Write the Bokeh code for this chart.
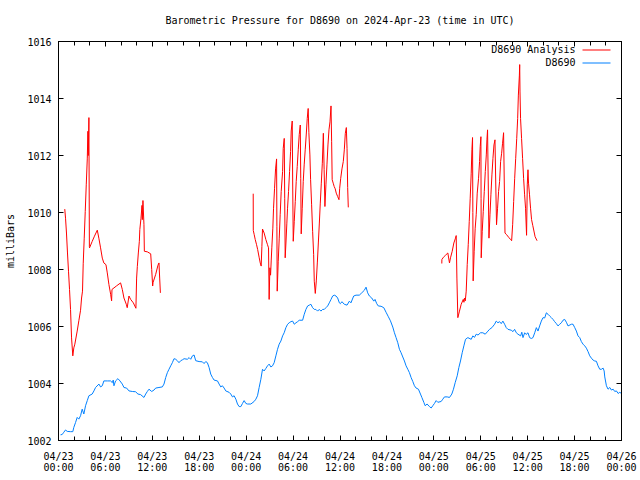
import math
from bokeh.plotting import figure
from bokeh.models import FixedTicker, LinearAxis, Range1d, Label, BoxAnnotation
from bokeh.embed import file_html
from bokeh.resources import INLINE

NaN = float("nan")

title_text = "Barometric Pressure for D8690 on 2024-Apr-23 (time in UTC)"
y_label = "milliBars"
series_names = ["D8690 Analysis", "D8690"]

# hours since 2024-04-23 00:00 UTC
tick_hours = [0, 6, 12, 18, 24, 30, 36, 42, 48, 54, 60, 66, 72]
tick_labels = ["04/23\n00:00", "04/23\n06:00", "04/23\n12:00", "04/23\n18:00",
               "04/24\n00:00", "04/24\n06:00", "04/24\n12:00", "04/24\n18:00",
               "04/25\n00:00", "04/25\n06:00", "04/25\n12:00", "04/25\n18:00",
               "04/26\n00:00"]
minor_hours = list(range(0, 73, 2))
y_ticks = [1002, 1004, 1006, 1008, 1010, 1012, 1014, 1016]

station_hours = [
    0.26, 0.47, 0.68, 0.90, 1.11, 1.54, 1.83, 1.96, 2.18, 2.39, 2.60, 2.82, 3.03, 3.24, 3.46, 3.68,
    3.89, 4.31, 4.53, 4.74, 5.17, 5.38, 5.60, 5.80, 6.24, 6.66, 6.88, 7.00, 7.09, 7.30, 7.60, 7.86,
    8.16, 8.37, 8.71, 9.01, 9.44, 9.86, 10.16, 10.50, 10.93, 11.15, 11.36, 11.57, 11.92, 12.21,
    12.43, 12.85, 13.28, 13.49, 13.71, 13.92, 14.13, 14.35, 14.56, 14.77, 14.99, 15.20, 15.41,
    15.63, 15.84, 16.06, 16.48, 16.70, 16.91, 17.13, 17.34, 17.55, 17.98, 18.40, 18.62, 18.83,
    19.04, 19.26, 19.47, 19.69, 19.90, 20.33, 20.54, 20.75, 20.96, 21.18, 21.39, 21.82, 22.03,
    22.25, 22.46, 22.68, 22.89, 23.10, 23.32, 23.53, 23.74, 23.96, 24.17, 24.60, 25.02, 25.24,
    25.45, 25.66, 25.88, 26.09, 26.30, 26.52, 26.73, 26.94, 27.16, 27.37, 27.58, 27.80, 28.01,
    28.22, 28.44, 28.66, 28.86, 29.08, 29.30, 29.50, 29.72, 29.94, 30.15, 30.37, 30.58, 30.79,
    31.22, 31.43, 31.64, 31.86, 32.07, 32.28, 32.50, 32.71, 32.92, 33.14, 33.35, 33.56, 33.78,
    33.99, 34.20, 34.42, 34.63, 34.85, 35.06, 35.27, 35.49, 35.70, 35.92, 36.04, 36.25, 36.55,
    36.90, 37.20, 37.40, 37.75, 38.05, 38.47, 38.78, 39.11, 39.33, 39.54, 39.76, 40.06, 40.32,
    40.48, 40.70, 40.90, 41.25, 41.60, 41.89, 42.19, 42.45, 42.75, 42.96, 43.17, 43.39, 43.60,
    43.81, 44.03, 44.24, 44.45, 44.67, 44.88, 45.09, 45.31, 45.52, 45.73, 46.03, 46.29, 46.47,
    46.72, 46.89, 47.14, 47.44, 47.66, 47.87, 48.08, 48.30, 48.51, 48.94, 49.15, 49.36, 49.71,
    50.00, 50.30, 50.51, 50.73, 50.99, 51.20, 51.41, 51.63, 51.84, 52.05, 52.35, 52.78, 52.99,
    53.20, 53.42, 53.65, 53.97, 54.27, 54.57, 54.83, 55.12, 55.43, 55.77, 55.98, 56.20, 56.40,
    56.62, 56.83, 57.05, 57.26, 57.48, 57.90, 58.12, 58.33, 58.55, 58.76, 59.10, 59.25, 59.40,
    59.62, 59.80, 60.04, 60.25, 60.47, 60.68, 60.90, 61.11, 61.32, 61.53, 61.75, 61.96, 62.18,
    62.39, 62.60, 62.81, 63.03, 63.24, 63.45, 63.67, 63.88, 64.10, 64.31, 64.52, 64.73, 64.95,
    65.16, 65.59, 65.80, 66.02, 66.23, 66.44, 66.66, 66.87, 67.08, 67.30, 67.51, 67.72, 67.94,
    68.15, 68.37, 68.58, 68.79, 69.00, 69.22, 69.43, 69.65, 69.78, 69.86, 70.07, 70.28, 70.50,
    70.71, 70.93, 71.14, 71.35, 71.57, 71.78, 72.00]
station_mb = [
    1002.20, 1002.21, 1002.29, 1002.37, 1002.32, 1002.31, 1002.31, 1002.46, 1002.63, 1002.81,
    1002.75, 1002.87, 1003.10, 1002.93, 1003.22, 1003.40, 1003.57, 1003.63, 1003.74, 1003.86,
    1003.98, 1003.88, 1003.92, 1004.09, 1004.09, 1004.09, 1004.03, 1004.12, 1003.92, 1004.09,
    1004.17, 1004.09, 1003.98, 1003.86, 1003.84, 1003.74, 1003.72, 1003.71, 1003.63, 1003.61,
    1003.51, 1003.63, 1003.72, 1003.80, 1003.72, 1003.77, 1003.84, 1003.86, 1003.88, 1003.98,
    1004.21, 1004.38, 1004.50, 1004.62, 1004.73, 1004.87, 1004.85, 1004.80, 1004.73, 1004.80,
    1004.83, 1004.87, 1004.85, 1004.91, 1004.85, 1004.97, 1005.00, 1004.80, 1004.77, 1004.76,
    1004.70, 1004.77, 1004.73, 1004.56, 1004.33, 1004.21, 1004.12, 1004.09, 1003.98, 1003.88,
    1003.92, 1003.84, 1003.74, 1003.69, 1003.63, 1003.53, 1003.57, 1003.45, 1003.28, 1003.19,
    1003.19, 1003.30, 1003.40, 1003.30, 1003.28, 1003.28, 1003.37, 1003.45, 1003.57, 1003.86,
    1004.15, 1004.50, 1004.44, 1004.53, 1004.62, 1004.68, 1004.58, 1004.62, 1004.73, 1004.97,
    1005.20, 1005.38, 1005.49, 1005.67, 1005.78, 1005.96, 1006.08, 1006.13, 1006.17, 1006.19,
    1006.08, 1006.13, 1006.17, 1006.22, 1006.22, 1006.43, 1006.60, 1006.72, 1006.75, 1006.78,
    1006.66, 1006.60, 1006.60, 1006.54, 1006.60, 1006.54, 1006.60, 1006.60, 1006.66, 1006.72,
    1006.83, 1006.95, 1007.07, 1007.10, 1007.07, 1007.00, 1006.83, 1006.80, 1006.87, 1006.78,
    1006.75, 1006.89, 1006.83, 1007.07, 1007.10, 1007.10, 1007.18, 1007.27, 1007.38, 1007.18,
    1007.07, 1007.00, 1006.89, 1006.95, 1006.80, 1006.72, 1006.71, 1006.66, 1006.50, 1006.34,
    1006.20, 1005.98, 1005.78, 1005.61, 1005.43, 1005.20, 1005.08, 1004.93, 1004.79, 1004.62,
    1004.50, 1004.38, 1004.21, 1004.07, 1003.92, 1003.84, 1003.80, 1003.63, 1003.51, 1003.34,
    1003.22, 1003.28, 1003.19, 1003.14, 1003.22, 1003.30, 1003.40, 1003.34, 1003.37, 1003.45,
    1003.53, 1003.53, 1003.51, 1003.63, 1003.80, 1004.03, 1004.27, 1004.56, 1004.79, 1005.08,
    1005.32, 1005.55, 1005.61, 1005.55, 1005.67, 1005.62, 1005.73, 1005.70, 1005.78, 1005.78,
    1005.73, 1005.81, 1005.90, 1005.96, 1006.08, 1006.19, 1006.13, 1006.17, 1006.10, 1006.19,
    1006.08, 1005.96, 1005.90, 1005.87, 1005.82, 1005.90, 1005.78, 1005.73, 1005.67, 1005.80,
    1005.61, 1005.78, 1005.72, 1005.78, 1005.61, 1005.58, 1005.61, 1005.78, 1005.96, 1005.84,
    1006.02, 1006.19, 1006.31, 1006.30, 1006.48, 1006.43, 1006.37, 1006.31, 1006.25, 1006.17,
    1006.10, 1006.02, 1006.08, 1006.13, 1006.22, 1006.25, 1006.15, 1006.02, 1006.08, 1006.08,
    1005.96, 1005.84, 1005.67, 1005.61, 1005.47, 1005.38, 1005.32, 1005.24, 1005.12, 1004.97,
    1004.89, 1004.82, 1004.79, 1004.78, 1004.62, 1004.50, 1004.50, 1004.54, 1004.44, 1004.23,
    1003.92, 1003.80, 1003.86, 1003.77, 1003.80, 1003.72, 1003.74, 1003.65, 1003.69, 1003.65]

# analysis series: three runs separated by gaps (NaN)
analysis_hours = [
    0.80, 0.90, 1.02, 1.15, 1.28, 1.41, 1.54, 1.67, 1.83, 1.96, 2.09, 2.39, 2.60, 2.82, 2.95,
    3.07, 3.16, 3.29, 3.42, 3.55, 3.68, 3.76, 3.81, 3.89, 3.95, 3.97, 4.30, 4.60, 4.96, 5.16,
    5.38, 5.60, 5.80, 6.07, 6.24, 6.45, 6.67, 6.79, 6.84, 7.40, 7.94, 8.16, 8.37, 8.67, 8.79,
    9.01, 9.23, 9.57, 9.90, 9.99, 10.08, 10.21, 10.34, 10.40, 10.55, 10.68, 10.72, 10.80, 10.93,
    10.98, 11.36, 11.79, 11.92, 12.04, 12.10, 12.43, 12.72, 12.85, 12.94, 13.03,
    NaN,
    24.90, 24.91, 25.03, 25.16, 25.33, 25.47, 25.67, 25.80, 25.92, 26.01, 26.09, 26.30, 26.52,
    26.73, 26.86, 26.94, 27.03, 27.12, 27.20, 27.28, 27.41, 27.50, 27.63, 27.76, 27.89, 27.93,
    27.97, 28.10, 28.23, 28.35, 28.48, 28.66, 28.74, 28.87, 28.93, 28.99, 29.10, 29.20, 29.29,
    29.42, 29.55, 29.68, 29.76, 29.89, 29.95, 30.02, 30.15, 30.28, 30.40, 30.53, 30.66, 30.79,
    30.92, 30.98, 31.04, 31.17, 31.30, 31.42, 31.55, 31.68, 31.81, 31.93, 32.02, 32.15, 32.24,
    32.37, 32.50, 32.63, 32.71, 32.84, 32.97, 33.10, 33.23, 33.36, 33.48, 33.61, 33.74, 33.87,
    33.97, 34.07, 34.20, 34.33, 34.46, 34.59, 34.72, 34.85, 34.93, 35.00, 35.13, 35.26, 35.39,
    35.52, 35.70, 35.87, 35.96, 36.09, 36.25, 36.42, 36.55, 36.68, 36.81, 36.90, 36.98, 37.06,
    NaN,
    49.02, 49.03, 49.23, 49.49, 49.79, 50.00, 50.13, 50.35, 50.56, 50.77, 50.86, 50.95, 51.07,
    51.28, 51.50, 51.76, 51.85, 51.92, 52.02, 52.14, 52.27, 52.40, 52.53, 52.65, 52.78, 52.87,
    52.95, 52.99, 53.03, 53.16, 53.29, 53.42, 53.55, 53.72, 53.85, 53.93, 54.02, 54.04, 54.06,
    54.19, 54.32, 54.45, 54.58, 54.71, 54.79, 54.87, 54.96, 55.05, 55.18, 55.30, 55.43, 55.56,
    55.69, 55.82, 55.92, 56.02, 56.15, 56.28, 56.41, 56.54, 56.67, 56.79, 56.92, 57.01, 57.10,
    57.31, 57.57, 57.82, 57.95, 58.08, 58.21, 58.34, 58.47, 58.60, 58.72, 58.81, 58.94, 58.98,
    59.02, 59.09, 59.22, 59.35, 59.48, 59.61, 59.73, 59.86, 59.95, 60.04, 60.11, 60.24, 60.37,
    60.50, 60.65, 60.80, 60.95, 61.20]
analysis_mb = [
    1010.12, 1009.80, 1009.28, 1008.58, 1007.94, 1007.30, 1006.60, 1005.60, 1004.97, 1005.25,
    1005.38, 1005.84, 1006.20, 1006.57, 1007.00, 1007.24, 1008.20, 1009.10, 1010.04, 1010.97,
    1011.88, 1012.85, 1012.00, 1013.33, 1008.80, 1008.76, 1008.98, 1009.17, 1009.38, 1009.10,
    1008.76, 1008.40, 1008.23, 1008.17, 1007.88, 1007.47, 1007.13, 1006.90, 1007.30, 1007.42,
    1007.53, 1007.30, 1007.00, 1006.78, 1006.66, 1007.07, 1006.95, 1006.83, 1006.64, 1007.70,
    1008.10, 1008.58, 1008.99, 1009.40, 1009.80, 1010.25, 1009.75, 1010.42, 1009.57, 1008.64,
    1008.62, 1008.55, 1008.00, 1007.42, 1007.55, 1007.83, 1008.15, 1008.23, 1007.70, 1007.18,
    NaN,
    1010.66, 1009.37, 1009.22, 1009.05, 1008.87, 1008.70, 1008.41, 1008.23, 1008.12, 1008.80,
    1009.42, 1009.28, 1009.05, 1008.87, 1008.76, 1006.95, 1008.06, 1007.80, 1008.30, 1008.76,
    1009.45, 1010.15, 1010.85, 1011.53, 1011.88, 1009.50, 1007.24, 1008.29, 1009.10, 1009.92,
    1010.74, 1011.44, 1012.25, 1012.60, 1010.50, 1008.41, 1009.00, 1009.60, 1010.15, 1010.74,
    1011.44, 1012.14, 1012.86, 1013.21, 1011.00, 1008.99, 1009.69, 1010.39, 1011.09, 1011.61,
    1012.20, 1012.74, 1013.07, 1011.20, 1009.25, 1010.15, 1011.09, 1011.67, 1012.20, 1012.72,
    1013.30, 1013.65, 1012.80, 1012.02, 1011.15, 1010.27, 1009.34, 1008.52, 1007.59, 1007.16,
    1007.60, 1008.23, 1008.93, 1009.63, 1010.33, 1011.03, 1011.73, 1012.78, 1011.50, 1010.21,
    1010.97, 1011.67, 1012.37, 1012.90, 1013.18, 1013.74, 1012.50, 1011.15, 1011.03, 1010.91,
    1010.83, 1010.68, 1010.56, 1010.45, 1010.85, 1011.20, 1011.53, 1011.79, 1012.20, 1012.78,
    1012.98, 1012.25, 1010.88, 1010.18,
    NaN,
    1008.21, 1008.35, 1008.43, 1008.50, 1008.58, 1008.23, 1008.41, 1008.64, 1008.93, 1009.10,
    1009.19, 1007.70, 1006.31, 1006.54, 1006.78, 1006.95, 1006.85, 1007.00, 1006.90, 1007.24,
    1008.17, 1008.87, 1009.69, 1010.50, 1011.38, 1012.20, 1012.63, 1010.00, 1007.60, 1008.64,
    1009.45, 1009.92, 1010.68, 1011.20, 1011.79, 1012.31, 1012.66, 1010.50, 1008.41, 1009.34,
    1010.04, 1010.74, 1011.44, 1012.02, 1012.55, 1012.90, 1011.00, 1009.10, 1009.92, 1010.62,
    1011.32, 1011.90, 1012.37, 1012.55, 1011.00, 1009.57, 1010.15, 1010.74, 1011.09, 1011.79,
    1012.08, 1012.43, 1012.80, 1011.00, 1009.28, 1009.22, 1009.13, 1009.05, 1009.01, 1009.57,
    1010.39, 1011.20, 1011.90, 1012.60, 1013.30, 1014.12, 1014.82, 1015.19, 1014.23, 1013.30,
    1012.60, 1011.90, 1011.20, 1010.62, 1010.15, 1009.20, 1010.97, 1011.50, 1011.03, 1010.62,
    1010.15, 1009.75, 1009.55, 1009.35, 1009.15, 1009.01]

RED = "#ff0000"
BLUE = "#0080ff"
FONT = "DejaVu Sans Mono"
FS = "10px"

p = figure(width=640, height=480, output_backend="svg", toolbar_location=None,
           x_range=Range1d(0, 72), y_range=Range1d(1002, 1016),
           min_border_left=58, min_border_right=19, min_border_top=40, min_border_bottom=40,
           title=title_text)
p.background_fill_color = "white"
p.border_fill_color = "white"
p.outline_line_color = "black"
p.outline_line_width = 1
p.xgrid.visible = False
p.ygrid.visible = False

p.title.align = "center"
p.title.vertical_align = "top"
p.title.text_font = FONT
p.title.text_font_size = FS
p.title.text_font_style = "normal"
p.title.text_color = "black"
p.title.standoff = 28


def style_axis(ax, show_labels=True):
    ax.axis_line_color = "black"
    ax.major_tick_line_color = "black"
    ax.minor_tick_line_color = "black"
    ax.major_tick_in = 5
    ax.major_tick_out = 0
    ax.minor_tick_in = 4
    ax.minor_tick_out = 0
    ax.major_label_text_font = FONT
    if show_labels:
        ax.major_label_text_font_size = FS
        ax.major_label_text_color = "black"
    else:
        # mirror axis: ticks only, no tick labels drawn
        ax.major_label_text_font_size = "0px"
        ax.major_label_text_color = None
        ax.major_label_text_alpha = 0
        ax.major_label_standoff = 0


xa = p.xaxis[0]
xa.ticker = FixedTicker(ticks=tick_hours, minor_ticks=minor_hours)
xa.major_label_overrides = {h: lab for h, lab in zip(tick_hours, tick_labels)}
style_axis(xa)
xa.major_label_standoff = 10
xa.major_label_text_line_height = 1.05

ya = p.yaxis[0]
ya.ticker = FixedTicker(ticks=y_ticks, minor_ticks=[])
style_axis(ya)
ya.major_label_standoff = 7
ya.axis_label = y_label
ya.axis_label_text_font = FONT
ya.axis_label_text_font_size = FS
ya.axis_label_text_font_style = "normal"
ya.axis_label_text_color = "black"
ya.axis_label_standoff = 8

top_ax = LinearAxis(ticker=FixedTicker(ticks=tick_hours, minor_ticks=minor_hours))
style_axis(top_ax, show_labels=False)
p.add_layout(top_ax, "above")

right_ax = LinearAxis(ticker=FixedTicker(ticks=y_ticks, minor_ticks=[]))
style_axis(right_ax, show_labels=False)
p.add_layout(right_ax, "right")

p.line(analysis_hours, analysis_mb, line_color=RED, line_width=1)
p.line(station_hours, station_mb, line_color=BLUE, line_width=1)

# key (text then sample line, as in the original); screen units from frame bottom-left
for i, (name, col) in enumerate(zip(series_names, [RED, BLUE])):
    yy = 391 - 13 * i
    p.add_layout(Label(x=517, y=yy, x_units="screen", y_units="screen", text=name,
                       text_align="right", text_baseline="middle", text_font=FONT,
                       text_font_size=FS, text_color="black"))
    p.add_layout(BoxAnnotation(left=524, right=552, bottom=yy - 1, top=yy,
                               left_units="screen", right_units="screen",
                               bottom_units="screen", top_units="screen",
                               fill_color=col, fill_alpha=1.0, line_alpha=0))

open("out.html", "w").write(file_html(p, INLINE))
